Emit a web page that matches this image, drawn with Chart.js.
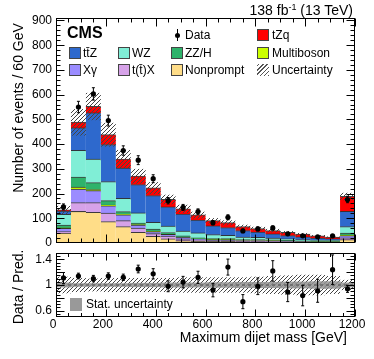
<!DOCTYPE html>
<html><head><meta charset="utf-8">
<script src="https://cdn.jsdelivr.net/npm/chart.js@4.4.1/dist/chart.umd.min.js"></script>
<style>
html,body{margin:0;padding:0;background:#fff;}
#wrap{position:relative;width:374px;height:359px;overflow:hidden;font-family:"Liberation Sans",Arial,Helvetica,sans-serif;color:#000;}
canvas{position:absolute;left:0;top:0;}
.t{position:absolute;white-space:nowrap;line-height:1;z-index:5;}
.sw{position:absolute;width:12px;height:12px;border:1px solid #444;box-sizing:border-box;z-index:5;}
.rot{transform:translate(-50%,-50%) rotate(-90deg);}
</style></head>
<body><div id="wrap">
<canvas id="main" width="374" height="359" style="width:374px;height:359px"></canvas>
<canvas id="ratio" width="374" height="359" style="width:374px;height:359px"></canvas>

<div class="t" style="right:21px;top:3px;font-size:14px">138 fb<span style="font-size:9px;position:relative;top:-5px">-1</span> (13 TeV)</div>
<div class="t" style="left:67px;top:25px;font-size:16px;font-weight:bold">CMS</div>

<div style="position:absolute;left:176.5px;top:29px;width:1px;height:12px;background:#000;z-index:5"></div>
<div style="position:absolute;left:174.5px;top:32.5px;width:5px;height:5px;border-radius:50%;background:#000;z-index:5"></div>
<div class="t" style="left:185px;top:29px;font-size:12px">Data</div>
<div class="sw" style="left:257px;top:29px;background:#ff0000"></div>
<div class="t" style="left:272px;top:29px;font-size:12px">tZq</div>

<div class="sw" style="left:69px;top:46.5px;background:#2e69cd"></div>
<div class="t" style="left:83px;top:46.5px;font-size:12px">tt&#772;Z</div>
<div class="sw" style="left:118px;top:46.5px;background:#80eed6"></div>
<div class="t" style="left:132px;top:46.5px;font-size:12px">WZ</div>
<div class="sw" style="left:171px;top:46.5px;background:#2eb36b"></div>
<div class="t" style="left:185px;top:46.5px;font-size:12px">ZZ/H</div>
<div class="sw" style="left:257px;top:46.5px;background:#ccff00"></div>
<div class="t" style="left:272px;top:46.5px;font-size:12px">Multiboson</div>

<div class="sw" style="left:69px;top:64px;background:#9b8cff"></div>
<div class="t" style="left:83px;top:64px;font-size:12px">X&gamma;</div>
<div class="sw" style="left:118px;top:64px;background:#d6a2e8"></div>
<div class="t" style="left:132px;top:64px;font-size:12px">t(t&#772;)X</div>
<div class="sw" style="left:171px;top:64px;background:#ffdd88"></div>
<div class="t" style="left:185px;top:64px;font-size:12px">Nonprompt</div>
<div class="sw" style="left:257px;top:64px;border:none;background:repeating-linear-gradient(-45deg,#555 0 1px,#fff 1px 3px)"></div>
<div class="t" style="left:272px;top:64px;font-size:12px">Uncertainty</div>

<div class="t rot" style="left:18px;top:107.5px;font-size:14px">Number of events / 60 GeV</div>
<div class="t rot" style="left:18px;top:287px;font-size:14px">Data / Pred.</div>
<div class="t" style="right:27px;top:330px;font-size:14px">Maximum dijet mass [GeV]</div>

<div style="position:absolute;left:70px;top:298px;width:12px;height:13px;background:#999;z-index:5"></div>
<div class="t" style="left:86px;top:298px;font-size:12px">Stat. uncertainty</div>
</div>
<script>
// ---------------- data ----------------
const binCenters = [30,90,150,210,270,330,390,450,510,570,630,690,750,810,870,930,990,1050,1110,1170];
const nonprompt   = [39,127,123,86,66,42,26,16,9,7,6,6,5,5,4,3,3,2,2,13];
const ttX         = [7,36,40,34,24,18,11,11,7,4,3,3,2,2,2,2,1,1,1,7];
const xGamma      = [13,54,48,30,23,12,9,7,6,4,3,3,2,2,2,1,1,1,1,9];
const multiboson  = [2,8,4,3,2,2,2,1,1,1,1,1,1,1,1,1,1,0.5,0.5,2];
const zzH         = [11,41,29,18,11,6,8,6,5,4,4,4,3,3,3,3,2,2,2,8];
const wz          = [43,108,95,77,54,41,27,27,20,20,16,13,10,9,7,6,5,4,4,27];
const ttZ         = [13,91,187,149,122,115,108,78,68,52,36,32,27,21,17,13,11,8.5,5.5,61];
const tZq         = [5,23,26,41,37,34,31,30,22,21,21,20,16,15,14,13,11,9,7,61];
const dataCounts  = [146,550,603,495,374,335,260,171,144,127,82,104,49,57,61,37,29,25,29,176];
const dataErr     = [12,23,25,22,19,18,16,13,12,11,9,10,7,8,8,6,5,5,5,13];
const ratioVals   = [1.11,1.14,1.10,1.14,1.12,1.25,1.175,0.98,1.045,1.12,0.92,1.28,0.74,0.98,1.22,0.89,0.835,0.91,1.24,0.94];
const ratioErr    = [0.085,0.045,0.05,0.05,0.05,0.06,0.08,0.085,0.09,0.095,0.105,0.125,0.11,0.13,0.16,0.15,0.16,0.18,0.23,0.055];
const totUncRel   = [0.13,0.11,0.10,0.11,0.11,0.11,0.11,0.11,0.12,0.12,0.12,0.12,0.12,0.13,0.14,0.15,0.16,0.16,0.14,0.08];
const statUncRel  = [0.03,0.02,0.02,0.02,0.02,0.025,0.025,0.03,0.03,0.03,0.035,0.035,0.04,0.04,0.04,0.045,0.045,0.05,0.05,0.03];
const mainYTicks  = [0,100,200,300,400,500,600,700,800,900];
const ratioYTicks = [0.6,0.8,1,1.2,1.4];
const xTicks      = [0,200,400,600,800,1000,1200];

// ---------------- helpers ----------------
Chart.defaults.font.family = '"Liberation Sans", Arial, Helvetica, sans-serif';
Chart.defaults.font.size = 12;
Chart.defaults.color = '#000';

function hatch() {
  const c = document.createElement('canvas'); c.width = 4; c.height = 4;
  const g = c.getContext('2d');
  g.strokeStyle = '#444'; g.lineWidth = 1;
  g.beginPath(); g.moveTo(0,4); g.lineTo(4,0); g.moveTo(-1,1); g.lineTo(1,-1); g.moveTo(3,5); g.lineTo(5,3); g.stroke();
  return g.createPattern(c,'repeat');
}
const pts = arr => binCenters.map((x,i)=>({x, y: arr[i]}));
const pred = binCenters.map((_,i)=>nonprompt[i]+ttX[i]+xGamma[i]+multiboson[i]+zzH[i]+wz[i]+ttZ[i]+tZq[i]);

const frameTicks = {
  id: 'frameTicks',
  afterDraw(chart, args, o) {
    const {ctx, chartArea: a, scales} = chart;
    const xs = scales.x, ys = scales.y;
    ctx.save();
    ctx.strokeStyle = '#000'; ctx.lineWidth = 1;
    const L = Math.round(a.left)+0.5, R = Math.round(a.right)-0.5, T = Math.round(a.top)+0.5, B = Math.round(a.bottom)-0.5;
    ctx.beginPath();
    const nx = Math.round((o.xMax - o.xMin)/o.xMinor);
    for (let k = 0; k <= nx; k++) {
      const v = o.xMin + k*o.xMinor;
      const major = Math.abs(v/o.xMajor - Math.round(v/o.xMajor)) < 1e-6;
      const len = major ? o.xMajorLen : o.xMinorLen;
      const px = Math.round(xs.getPixelForValue(v)) + 0.5;
      ctx.moveTo(px, B); ctx.lineTo(px, B - len);
      ctx.moveTo(px, T); ctx.lineTo(px, T + len);
    }
    const ny = Math.round((o.yMax - o.yMin)/o.yMinor);
    for (let k = 0; k <= ny; k++) {
      const v = o.yMin + k*o.yMinor;
      const major = Math.abs((v - o.yRef)/o.yMajor - Math.round((v - o.yRef)/o.yMajor)) < 1e-6;
      const len = major ? o.yMajorLen : o.yMinorLen;
      const py = Math.round(ys.getPixelForValue(v)) + 0.5;
      if (py < T - 0.1 || py > B + 0.1) continue;
      ctx.moveTo(L, py); ctx.lineTo(L + len, py);
      ctx.moveTo(R, py); ctx.lineTo(R - len, py);
    }
    ctx.stroke();
    ctx.strokeRect(L, T, R-L, B-T);
    ctx.restore();
  }
};
const errBars = {
  id: 'errBars',
  afterDatasetsDraw(chart) {
    const {ctx} = chart;
    chart.data.datasets.forEach((ds, di) => {
      if (!ds.errors) return;
      const meta = chart.getDatasetMeta(di);
      const xs = chart.scales[meta.xAxisID], ys = chart.scales[meta.yAxisID];
      ctx.save(); ctx.strokeStyle = '#000'; ctx.lineWidth = 1;
      ds.data.forEach((p,i) => {
        const e = ds.errors[i];
        const px = xs.getPixelForValue(p.x);
        const y1 = ys.getPixelForValue(p.y - e), y2 = ys.getPixelForValue(p.y + e);
        ctx.beginPath();
        ctx.moveTo(px, y1); ctx.lineTo(px, y2);
        ctx.moveTo(px-1.5, y1); ctx.lineTo(px+1.5, y1);
        ctx.moveTo(px-1.5, y2); ctx.lineTo(px+1.5, y2);
        ctx.stroke();
      });
      ctx.restore();
    });
  }
};

const barCommon = {type:'bar', stack:'mc', order:2, barPercentage:1, categoryPercentage:1,
  borderWidth:{top:1,left:0,right:0,bottom:0}, borderColor:'rgba(30,30,30,0.85)', inflateAmount:0.5};
const mkStack = (label, arr, color) => Object.assign({}, barCommon, {label, data: pts(arr), backgroundColor: color});

// ---------------- main panel ----------------
new Chart(document.getElementById('main'), {
  type: 'bar',
  data: { datasets: [
    mkStack('Nonprompt', nonprompt, '#ffdd88'),
    mkStack('t(tbar)X', ttX, '#d6a2e8'),
    mkStack('Xgamma', xGamma, '#9b8cff'),
    mkStack('Multiboson', multiboson, '#ccff00'),
    mkStack('ZZ/H', zzH, '#2eb36b'),
    mkStack('WZ', wz, '#80eed6'),
    mkStack('ttZ', ttZ, '#2e69cd'),
    mkStack('tZq', tZq, '#ff0000'),
    {type:'bar', label:'Uncertainty', stack:'unc', order:1, grouped:false, barPercentage:1, categoryPercentage:1,
      data: binCenters.map((x,i)=>({x, y:[pred[i]*(1-totUncRel[i]), pred[i]*(1+totUncRel[i])]})),
      backgroundColor: hatch(), borderWidth:0, inflateAmount:0},
    {type:'line', label:'Data', stack:'data', order:0, showLine:false, data: pts(dataCounts), errors: dataErr,
      pointRadius:2.6, pointBackgroundColor:'#000', pointBorderWidth:0, pointHoverRadius:2.6}
  ]},
  options: {
    responsive:false, animation:false,
    layout:{padding:{left:0,right:19,top:18,bottom:116}},
    plugins:{legend:{display:false}, tooltip:{enabled:false},
      frameTicks:{xMin:0,xMax:1200,xMajor:200,xMinor:50,xMajorLen:8,xMinorLen:4,
                  yMin:0,yMax:910,yRef:0,yMajor:100,yMinor:20,yMajorLen:8,yMinorLen:4}},
    scales:{
      x:{type:'linear', min:0, max:1200, offset:false, stacked:true, display:false},
      y:{type:'linear', min:0, max:910, stacked:true,
         grid:{display:false, drawTicks:false}, border:{display:false},
         afterBuildTicks: s => { s.ticks = mainYTicks.map(v=>({value:v})); },
         afterFit: s => { s.width = 56; },
         ticks:{padding:4, font:{size:12}, color:'#000', callback: v => String(v)}}
    }
  },
  plugins:[frameTicks, errBars]
});

// ---------------- ratio panel ----------------
new Chart(document.getElementById('ratio'), {
  type: 'bar',
  data: { datasets: [
    {type:'bar', label:'Total unc', order:3, grouped:false, barPercentage:1, categoryPercentage:1,
      data: binCenters.map((x,i)=>({x, y:[1-totUncRel[i], 1+totUncRel[i]]})),
      backgroundColor: hatch(), borderWidth:0, inflateAmount:0},
    {type:'bar', label:'Stat. uncertainty', order:2, grouped:false, barPercentage:1, categoryPercentage:1,
      data: binCenters.map((x,i)=>({x, y:[1-statUncRel[i], 1+statUncRel[i]]})),
      backgroundColor:'rgba(145,145,145,0.85)', borderWidth:0, inflateAmount:0.5},
    {type:'line', label:'unity', order:1, data:[{x:0,y:1},{x:1200,y:1}], borderColor:'#666', borderWidth:1.5,
      borderDash:[3,3], pointRadius:0},
    {type:'line', label:'Data/Pred', order:0, showLine:false, data: pts(ratioVals), errors: ratioErr,
      pointRadius:2.6, pointBackgroundColor:'#000', pointBorderWidth:0, pointHoverRadius:2.6}
  ]},
  options: {
    responsive:false, animation:false,
    layout:{padding:{left:0,right:19,top:253,bottom:0}},
    plugins:{legend:{display:false}, tooltip:{enabled:false},
      frameTicks:{xMin:0,xMax:1200,xMajor:200,xMinor:50,xMajorLen:7,xMinorLen:3.5,
                  yMin:0.5,yMax:1.5,yRef:0.6,yMajor:0.2,yMinor:0.05,yMajorLen:8,yMinorLen:4}},
    scales:{
      x:{type:'linear', min:0, max:1200, offset:false,
         grid:{display:false, drawTicks:false}, border:{display:false},
         afterBuildTicks: s => { s.ticks = xTicks.map(v=>({value:v})); },
         afterFit: s => { s.height = 42; },
         ticks:{padding:0, labelOffset:-3, maxRotation:0, autoSkip:false, font:{size:12}, color:'#000', callback: v => String(v)}},
      y:{type:'linear', min:0.5, max:1.5,
         grid:{display:false, drawTicks:false}, border:{display:false},
         afterBuildTicks: s => { s.ticks = ratioYTicks.map(v=>({value:v})); },
         afterFit: s => { s.width = 56; },
         ticks:{padding:4, font:{size:12}, color:'#000', callback: v => String(Number(v.toFixed(2)))}}
    }
  },
  plugins:[frameTicks, errBars]
});
</script>
</body></html>
